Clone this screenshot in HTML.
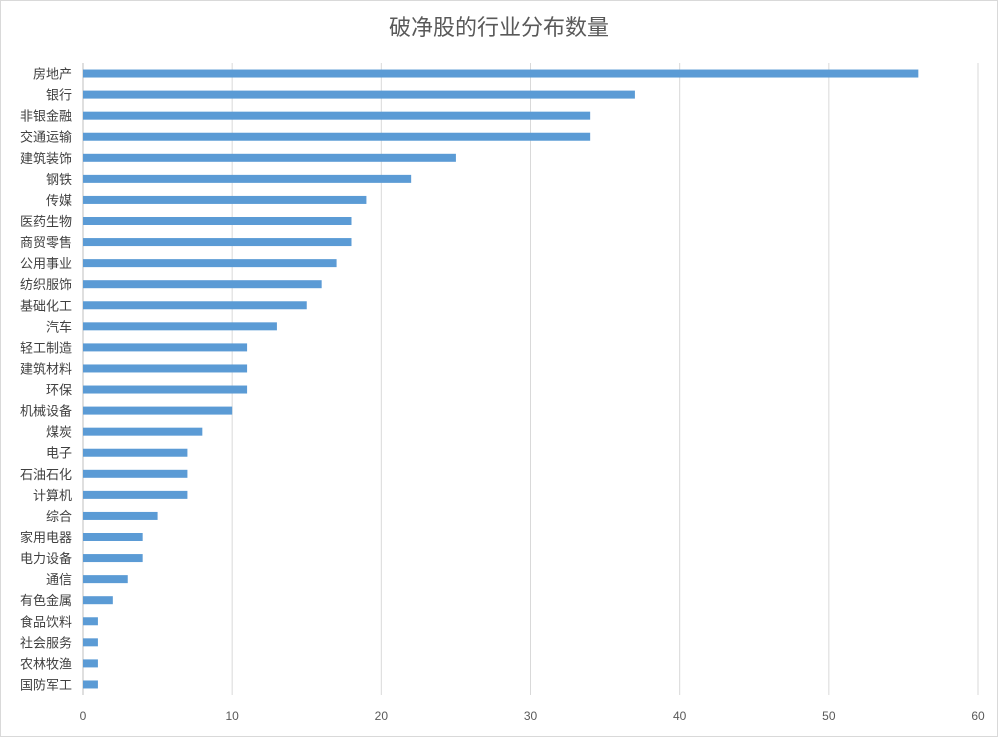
<!DOCTYPE html>
<html><head><meta charset="utf-8"><style>
html,body{margin:0;padding:0;background:#fff;}
svg{display:block;font-family:"Liberation Sans","Noto Sans CJK SC",sans-serif;}
</style></head><body>
<svg id="chart" width="998" height="737">
<rect x="0.5" y="0.5" width="997" height="736" fill="#fff" stroke="#d9d9d9"/>
<text x="499" y="35" text-anchor="middle" font-size="22" fill="#595959">破净股的行业分布数量</text>
<g id="grid"></g><g id="bars"></g><g id="ylabels"></g><g id="xlabels"></g>
</svg>
<script>
const categories=["房地产","银行","非银金融","交通运输","建筑装饰","钢铁","传媒","医药生物","商贸零售","公用事业","纺织服饰","基础化工","汽车","轻工制造","建筑材料","环保","机械设备","煤炭","电子","石油石化","计算机","综合","家用电器","电力设备","通信","有色金属","食品饮料","社会服务","农林牧渔","国防军工"];
const values=[56,37,34,34,25,22,19,18,18,17,16,15,13,11,11,11,10,8,7,7,7,5,4,4,3,2,1,1,1,1];
const ticks=[0,10,20,30,40,50,60];
const NS="http://www.w3.org/2000/svg";
const x0=83,x1=978,yTop=63,yBot=695,xmax=60;
const xs=v=>x0+(x1-x0)*v/xmax;
const band=(yBot-yTop)/categories.length;
const yc=i=>yTop+band*(i+0.5);
function mk(t,a,p){const e=document.createElementNS(NS,t);for(const k in a)e.setAttribute(k,a[k]);p.appendChild(e);return e;}
const g=document.getElementById('grid'),b=document.getElementById('bars'),yl=document.getElementById('ylabels'),xl=document.getElementById('xlabels');
ticks.forEach(t=>{
 const l=mk('line',{x1:xs(t),x2:xs(t),y1:yTop,y2:yBot,stroke:t===0?'#bfbfbf':'#d9d9d9','stroke-width':1},g);
 
 
 const tx=mk('text',{x:xs(t),y:720,'text-anchor':'middle','font-size':12,fill:'#595959'},xl);
 tx.textContent=t;
 
 
});
categories.forEach((c,i)=>{
 const r=mk('rect',{x:xs(0),y:yc(i)-4,width:xs(values[i])-xs(0),height:8,fill:'#5b9bd5'},b);
 
 
 const t=mk('text',{x:72,y:yc(i)+5,'text-anchor':'end','font-size':13,fill:'#404040'},yl);
 t.textContent=c;
 
 
});
</script>
</body></html>
